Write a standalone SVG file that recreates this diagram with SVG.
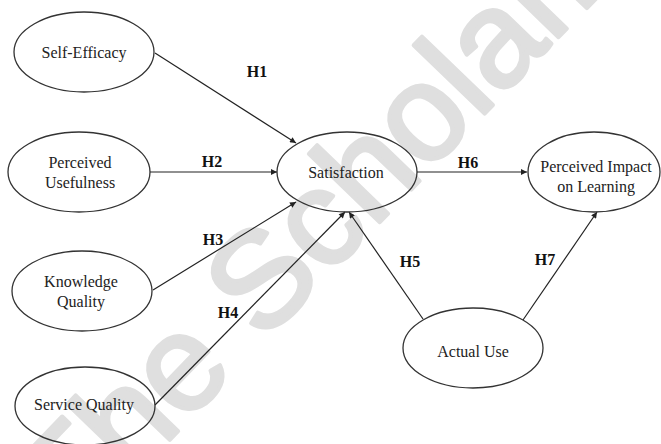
<svg xmlns="http://www.w3.org/2000/svg" width="661" height="444" viewBox="0 0 661 444">
<style>
.node ellipse{fill:none;stroke:#333;stroke-width:1.3}
.lbl{font-family:"Liberation Serif","Times New Roman",serif;font-size:16px;fill:#222;text-anchor:middle}
.h{font-family:"Liberation Serif","Times New Roman",serif;font-size:16px;font-weight:bold;fill:#111;text-anchor:middle}
.edge{stroke:#222;stroke-width:1.2;fill:none;marker-end:url(#arr)}
.wm{font-family:"Liberation Sans",Arial,sans-serif;font-size:136px;fill:#dfdfdf;stroke:#dfdfdf;stroke-width:4;stroke-linejoin:round}
</style>
<defs>
<marker id="arr" viewBox="0 0 10 10" refX="10" refY="5" markerWidth="8" markerHeight="6" markerUnits="userSpaceOnUse" orient="auto">
<path d="M0,0 L10,5 L0,10 z" fill="#222"/>
</marker>
</defs>
<rect width="661" height="444" fill="#fff"/>
<text class="wm" transform="translate(74,539) rotate(-46)">The Scholar.</text>
<g id="connectors">
<line class="edge" x1="155" y1="53" x2="296" y2="143"/>
<line class="edge" x1="150" y1="172" x2="277" y2="172"/>
<line class="edge" x1="153" y1="290" x2="296" y2="202"/>
<line class="edge" x1="155" y1="405" x2="345" y2="212"/>
<line class="edge" x1="423" y1="319" x2="349" y2="212"/>
<line class="edge" x1="417" y1="172" x2="527" y2="172"/>
<line class="edge" x1="523" y1="320" x2="597" y2="212"/>
<text class="h" x="257" y="77">H1</text>
<text class="h" x="212" y="167">H2</text>
<text class="h" x="213" y="245">H3</text>
<text class="h" x="228" y="318">H4</text>
<text class="h" x="410" y="267">H5</text>
<text class="h" x="468" y="168">H6</text>
<text class="h" x="545" y="265">H7</text>
</g>
<g id="self-efficacy" class="node"><ellipse cx="84" cy="52" rx="70" ry="40"/><text class="lbl" x="84" y="58">Self-Efficacy</text></g>
<g id="perceived-usefulness" class="node"><ellipse cx="79" cy="172" rx="71" ry="40"/><text class="lbl" x="80" y="168">Perceived</text><text class="lbl" x="80" y="188">Usefulness</text></g>
<g id="knowledge-quality" class="node"><ellipse cx="82" cy="291" rx="70" ry="40"/><text class="lbl" x="81" y="287">Knowledge</text><text class="lbl" x="81" y="307">Quality</text></g>
<g id="service-quality" class="node"><ellipse cx="85" cy="406" rx="70" ry="39"/><text class="lbl" x="84" y="410">Service Quality</text></g>
<g id="satisfaction" class="node"><ellipse cx="347" cy="172" rx="70" ry="40"/><text class="lbl" x="346" y="178">Satisfaction</text></g>
<g id="perceived-impact" class="node"><ellipse cx="594" cy="172" rx="66" ry="40"/><text class="lbl" x="596" y="172">Perceived Impact</text><text class="lbl" x="596" y="192">on Learning</text></g>
<g id="actual-use" class="node"><ellipse cx="473" cy="348" rx="70" ry="40"/><text class="lbl" x="473" y="357">Actual Use</text></g>
</svg>
